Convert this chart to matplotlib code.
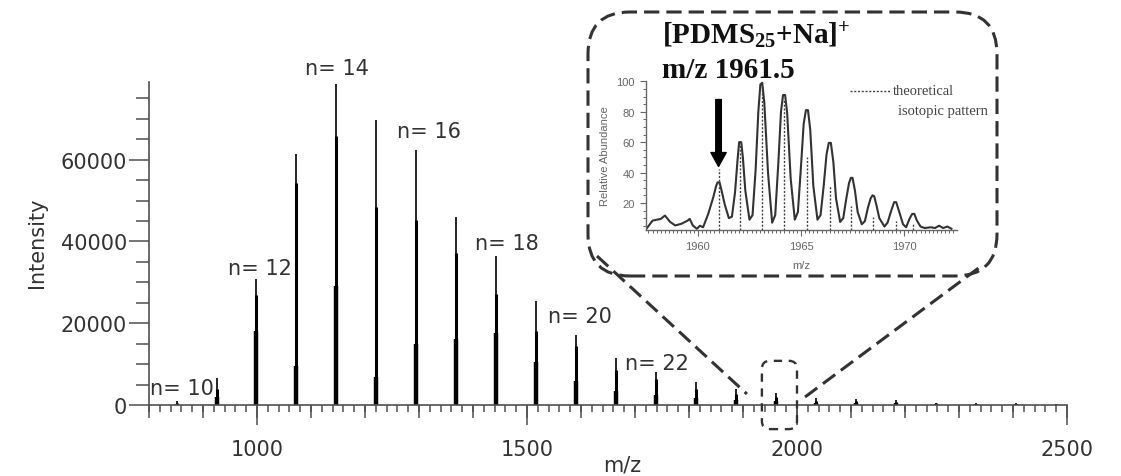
import matplotlib
matplotlib.use("Agg")
import matplotlib.pyplot as plt
from matplotlib.patches import FancyBboxPatch
from matplotlib.ticker import MultipleLocator

plt.rcParams["mathtext.fontset"] = "custom"
plt.rcParams["mathtext.rm"] = "Liberation Serif:bold"
plt.rcParams["mathtext.bf"] = "Liberation Serif:bold"
plt.rcParams["mathtext.it"] = "Liberation Serif:bold:italic"

# ---------------- main spectrum data ----------------
peak_mz = [851, 925, 999, 1073, 1147, 1221, 1295, 1369, 1443, 1517, 1591, 1665,
           1739, 1813, 1887, 1961, 2035, 2109, 2183, 2257, 2331, 2405, 2479]
peak_top = [1000, 6500, 30800, 61300, 78500, 69600, 62300, 46000, 36400, 25500, 17100, 11600,
            8100, 5700, 3900, 3000, 1600, 1500, 1300, 600, 500, 400, 300]
peak_mid = [600, 4000, 27000, 54300, 65900, 48500, 45300, 37100, 27200, 18200, 14500, 8500,
            6300, 4000, 2600, 2000, 1000, 1000, 800, 400, 300, 250, 200]
peak_low = [300, 2000, 18000, 9500, 29000, 6800, 15000, 16200, 17700, 10400, 5800, 3500,
            2500, 1800, 1200, 900, 500, 500, 400, 200, 200, 150, 100]

label_text = ["n= 10", "n= 12", "n= 14", "n= 16", "n= 18", "n= 20", "n= 22"]
label_mz = [802, 946, 1089, 1259, 1404, 1539, 1681]
label_int = [2690, 32040, 80960, 65550, 38150, 20300, 8800]

x_major = [1000, 1500, 2000, 2500]
x_major_labels = ["1000", "1500", "2000", "2500"]
y_major = [0, 20000, 40000, 60000]
y_major_labels = ["0", "20000", "40000", "60000"]

zoom_mz = (1935, 2000)
zoom_int = (-5900, 10800)

# ---------------- inset data (m/z, relative abundance) ----------------
curve_points = [
    (1957.5, 3), (1957.8, 8.4), (1958.2, 9.5), (1958.4, 11.7), (1958.65, 7.5),
    (1958.9, 5.2), (1959.2, 6.3), (1959.5, 8.4), (1959.6, 9.5), (1959.75, 5.2),
    (1959.95, 3), (1960.1, 5), (1960.25, 4), (1960.5, 12.8), (1960.75, 24),
    (1960.88, 31), (1960.95, 33.5), (1961.05, 33.5), (1961.15, 28), (1961.3, 19),
    (1961.5, 10), (1961.65, 11), (1961.8, 27), (1961.92, 48), (1962.0, 60),
    (1962.1, 60), (1962.18, 50), (1962.3, 28), (1962.5, 9), (1962.65, 12),
    (1962.8, 42), (1962.93, 80), (1963.03, 98), (1963.12, 99), (1963.22, 86),
    (1963.4, 40), (1963.6, 7), (1963.75, 12), (1963.9, 46), (1964.03, 80),
    (1964.13, 91), (1964.23, 91), (1964.33, 79), (1964.5, 36), (1964.7, 9),
    (1964.85, 14), (1965.0, 44), (1965.13, 72), (1965.24, 81), (1965.34, 81),
    (1965.45, 68), (1965.6, 31), (1965.8, 9), (1965.95, 12), (1966.1, 31),
    (1966.24, 52), (1966.35, 59.5), (1966.45, 59.5), (1966.57, 47), (1966.7, 23),
    (1966.9, 7.5), (1967.05, 10), (1967.2, 23), (1967.33, 33), (1967.42, 36.5),
    (1967.5, 36.5), (1967.62, 28), (1967.75, 14), (1967.95, 6), (1968.1, 8),
    (1968.25, 17), (1968.38, 23), (1968.47, 25), (1968.55, 24.5), (1968.67, 18),
    (1968.8, 10), (1969.05, 4.5), (1969.2, 7), (1969.38, 15), (1969.52, 20.5),
    (1969.62, 20.5), (1969.77, 14), (1969.95, 6), (1970.1, 4), (1970.28, 10),
    (1970.4, 12.8), (1970.5, 12.8), (1970.62, 8.5), (1970.8, 4.5), (1971.0, 3.5),
    (1971.3, 4), (1971.5, 3.5), (1971.7, 5), (1971.9, 3.5), (1972.1, 4.5),
    (1972.3, 3),
]
curve_mz = [p[0] for p in curve_points]
curve_ab = [p[1] for p in curve_points]
theo_mz = [1961.0, 1962.05, 1963.1, 1964.2, 1965.3, 1966.4, 1967.45, 1968.5, 1969.6, 1970.45]
theo_ab = [42, 59, 96, 88, 50, 32, 18, 11, 8, 6]
inset_xticks = [1960, 1965, 1970]
inset_yticks = [20, 40, 60, 80, 100]
arrow_mz = 1961.0
arrow_from, arrow_to = 88, 44

W, H = 1121, 477
fig = plt.figure(figsize=(W / 100, H / 100), dpi=100)


def px_rect(l, t, r, b):
    return [l / W, 1 - b / H, (r - l) / W, (b - t) / H]


AX_COL = "#505050"
TXT_COL = "#333333"

# ---------------- main axes ----------------
ax = fig.add_axes(px_rect(149, 83, 1067, 406))
ax.set_xlim(800, 2500)
ax.set_ylim(0, 79000)
ax.vlines(peak_mz, 0, peak_top, color="black", lw=1.2, capstyle="butt")
ax.vlines(peak_mz, 0, peak_mid, color="black", lw=2.2, capstyle="butt")
ax.vlines(peak_mz, 0, peak_low, color="black", lw=3.2, capstyle="butt")

for s in ("top", "right"):
    ax.spines[s].set_visible(False)
for s in ("left", "bottom"):
    ax.spines[s].set_color(AX_COL)
    ax.spines[s].set_linewidth(1.2)

ax.set_xticks(x_major, labels=x_major_labels)
ax.xaxis.set_minor_locator(MultipleLocator(20))
ax.tick_params(axis="x", which="major", length=14.4, width=1.1, pad=10, labelsize=15,
               color=AX_COL, labelcolor=TXT_COL)
ax.tick_params(axis="x", which="minor", length=5, width=1.1, color=AX_COL)
ax.set_yticks(y_major, labels=y_major_labels)
ax.yaxis.set_minor_locator(MultipleLocator(5000))
ax.tick_params(axis="y", which="major", length=14.4, width=1.1, pad=1.5, labelsize=15,
               color=AX_COL, labelcolor=TXT_COL)
ax.tick_params(axis="y", which="minor", length=9.4, width=1.1, color=AX_COL)

sec = ax.secondary_xaxis("bottom")
sec.set_xticks(list(range(800, 2501, 100)))
sec.tick_params(axis="x", which="major", length=9.4, width=1.1, color=AX_COL, labelbottom=False)
sec.tick_params(axis="x", which="minor", length=0)
sec.spines["bottom"].set_visible(False)

for t, xm, yi in zip(label_text, label_mz, label_int):
    ax.text(xm, yi, t, ha="left", va="baseline", fontsize=15, color=TXT_COL, clip_on=False)

fig.text(37 / W, 1 - 243 / H, "Intensity", rotation=90, ha="center", va="center",
         fontsize=15, color=TXT_COL)
fig.text(622 / W, 1 - 466 / H, "m/z", ha="center", va="center", fontsize=15, color=TXT_COL)

# ---------------- inset axes ----------------
INS_COL = "#666666"
ax_in = fig.add_axes(px_rect(646, 82, 957, 231))
ax_in.set_xlim(1957.48, 1972.57)
ax_in.set_ylim(2.2, 100.2)
ax_in.patch.set_alpha(0)
ax_in.plot(curve_mz, curve_ab, color="#333333", lw=1.5, solid_joinstyle="round")
ax_in.vlines(theo_mz, 2.2, theo_ab, color="#444444", lw=1.0, linestyles=(0, (1.5, 1.2)))
for s in ("top", "right"):
    ax_in.spines[s].set_visible(False)
for s in ("left", "bottom"):
    ax_in.spines[s].set_color(INS_COL)
    ax_in.spines[s].set_linewidth(1.0)
ax_in.set_xticks(inset_xticks, labels=[str(v) for v in inset_xticks])
ax_in.set_yticks(inset_yticks, labels=[str(v) for v in inset_yticks])
ax_in.xaxis.set_minor_locator(MultipleLocator(0.2))
ax_in.yaxis.set_minor_locator(MultipleLocator(5))
ax_in.tick_params(which="major", length=4, width=0.8, color=INS_COL, labelcolor=INS_COL,
                  labelsize=8, pad=4)
ax_in.tick_params(which="minor", length=2.2, width=0.7, color=INS_COL)
for lab in ax_in.get_xticklabels() + ax_in.get_yticklabels():
    lab.set_fontfamily("Liberation Sans")
ax_in.set_ylabel("Relative Abundance", fontsize=8, color=INS_COL, family="Liberation Sans")
ax_in.yaxis.set_label_coords(-0.115, 0.5)
ax_in.set_xlabel("m/z", fontsize=8, color=INS_COL, family="Liberation Sans")
ax_in.xaxis.set_label_coords(0.50, -0.20)

ax_in.annotate("", xy=(arrow_mz, arrow_to), xytext=(arrow_mz, arrow_from),
               arrowprops=dict(facecolor="black", edgecolor="black", width=4.0,
                               headwidth=11, headlength=10, shrink=0))

ax_in.plot([0.656, 0.785], [0.933, 0.933], transform=ax_in.transAxes, color="#444444",
           lw=1.0, ls=(0, (1.5, 1.2)), clip_on=False)
ax_in.text(0.794, 0.933, "theoretical", transform=ax_in.transAxes, ha="left", va="center",
           fontsize=10.5, family="Liberation Serif", color="#444444")
ax_in.text(1.10, 0.80, "isotopic pattern", transform=ax_in.transAxes, ha="right", va="center",
           fontsize=10.5, family="Liberation Serif", color="#444444")

fig.text(662 / W, 1 - 45 / H, r"[PDMS$_{\mathbf{25}}$+Na]$^{\mathbf{+}}$",
         family="Liberation Serif", fontweight="bold", fontsize=21, va="baseline",
         color="#111111")
fig.text(662 / W, 1 - 78 / H, "m/z 1961.5", family="Liberation Serif", fontweight="bold",
         fontsize=21, va="baseline", color="#111111")

# ---------------- zoom decorations (pixel overlay) ----------------
ov = fig.add_axes([0, 0, 1, 1])
ov.set_xlim(0, W)
ov.set_ylim(0, H)
ov.axis("off")
ov.patch.set_alpha(0)
ov.set_zorder(5)

DEC = "#333333"
big = FancyBboxPatch((588, H - 277), 997 - 588, 277 - 13,
                     boxstyle="round,pad=0,rounding_size=42", fill=False,
                     ec=DEC, lw=2.2, ls=(0, (5, 2.3)))
ov.add_patch(big)

(sx0, sy0) = ax.transData.transform((zoom_mz[0], zoom_int[0]))
(sx1, sy1) = ax.transData.transform((zoom_mz[1], zoom_int[1]))
small = FancyBboxPatch((sx0, sy0), sx1 - sx0, sy1 - sy0,
                       boxstyle="round,pad=0,rounding_size=8", fill=False,
                       ec=DEC, lw=1.7, ls=(0, (3.5, 2.8)))
ov.add_patch(small)
(_, base_y) = ax.transData.transform((zoom_mz[0], 0))
ov.plot([597, sx0 - 15], [H - 257, base_y + 11], color=DEC, lw=2.2, ls=(0, (5, 2.3)))
ov.plot([sx1 + 8, 984], [base_y + 8, H - 265], color=DEC, lw=2.2, ls=(0, (5, 2.3)))

fig.savefig("out.png", dpi=100)
